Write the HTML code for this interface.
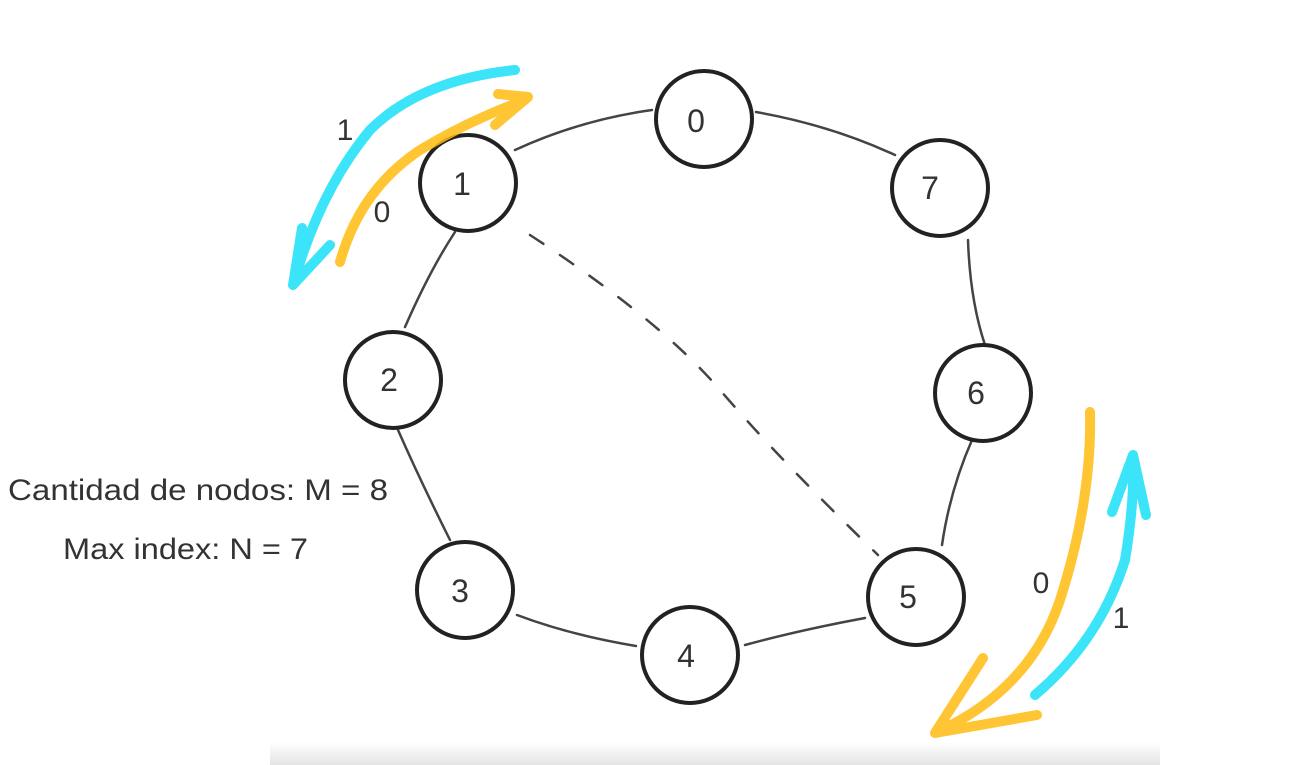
<!DOCTYPE html>
<html><head><meta charset="utf-8"><style>
html,body{margin:0;padding:0;background:#fff;}
svg{display:block}
text{font-family:"Liberation Sans",sans-serif;fill:#333;}
</style></head><body>
<svg width="1303" height="765" viewBox="0 0 1303 765">
<defs>
<linearGradient id="sh" x1="0" y1="0" x2="0" y2="1">
<stop offset="0" stop-color="#fff"/><stop offset="1" stop-color="#e4e4e4"/></linearGradient>
</defs>
<rect x="270" y="742" width="890" height="23" fill="url(#sh)"/>
<g stroke="#444" stroke-width="2.5" fill="none" stroke-linecap="round">
<path d="M515,150 Q580,120 652,110"/>
<path d="M756,112 Q830,125 895,155"/>
<path d="M968,240 Q970,300 985,345"/>
<path d="M972,440 Q950,490 942,545"/>
<path d="M865,618 Q800,630 745,645"/>
<path d="M636,646 Q570,635 517,615"/>
<path d="M450,540 Q420,480 398,430"/>
<path d="M405,327 Q430,270 455,232"/>
<path d="M530,235 Q660,320 720,390 T878,555" stroke-dasharray="16,20"/>
</g>
<g stroke="#222" stroke-width="4" fill="#fff">
<circle cx="704" cy="119" r="48"/>
<circle cx="468" cy="183" r="48"/>
<circle cx="940" cy="188" r="48"/>
<circle cx="393" cy="380" r="48"/>
<circle cx="983" cy="393" r="48"/>
<circle cx="465" cy="590" r="48"/>
<circle cx="916" cy="597" r="48"/>
<circle cx="690" cy="655" r="48"/>
</g>
<g font-size="32" text-anchor="middle">
<text x="696" y="132">0</text>
<text x="462" y="195">1</text>
<text x="930" y="199">7</text>
<text x="389" y="391">2</text>
<text x="976" y="404">6</text>
<text x="460" y="602">3</text>
<text x="908" y="608">5</text>
<text x="686" y="667">4</text>
</g>
<g fill="none" stroke-linecap="round" stroke-linejoin="round" opacity="0.85">
<path d="M515,70 Q420,80 370,130 Q320,190 293,285 M293,285 L302,228 M293,285 L330,245" stroke="#19e0f7" stroke-width="10"/>
<path d="M340,262 Q360,190 420,150 Q470,120 525,100 M528,97 L498,94 M528,97 L495,125" stroke="#ffbb10" stroke-width="10"/>
<path d="M1090,412 Q1092,500 1060,600 Q1030,690 935,733 M935,733 L983,658 M935,733 L1037,715" stroke="#ffbb10" stroke-width="10"/>
<path d="M1035,695 Q1100,640 1125,560 Q1135,500 1133,455 M1133,455 L1112,512 M1133,455 L1146,515" stroke="#19e0f7" stroke-width="10"/>
</g>
<g font-size="30" text-anchor="middle">
<text x="345" y="140">1</text>
<text x="382" y="222">0</text>
<text x="1041" y="593">0</text>
<text x="1121" y="628">1</text>
</g>
<g font-size="30">
<text x="8" y="500" textLength="380" lengthAdjust="spacingAndGlyphs">Cantidad de nodos: M = 8</text>
<text x="63" y="559" textLength="245" lengthAdjust="spacingAndGlyphs">Max index: N = 7</text>
</g>
</svg>
</body></html>
